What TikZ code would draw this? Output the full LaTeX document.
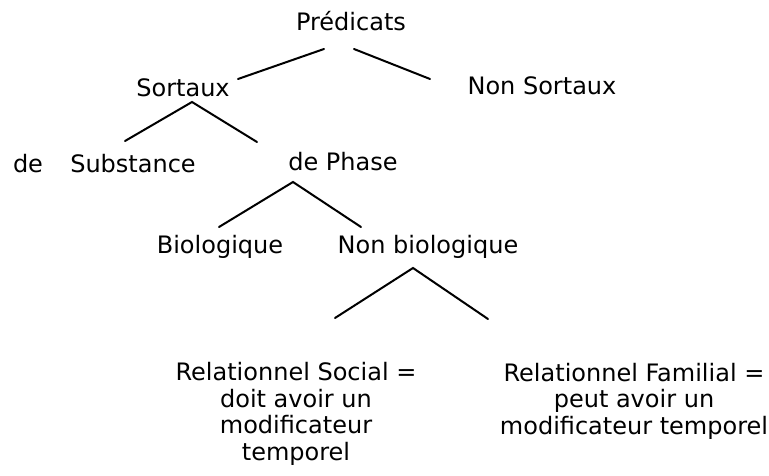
\documentclass[tikz,border=0pt]{standalone}
\usepackage{fontspec}
\setmainfont{DejaVu Sans}
\usetikzlibrary{positioning}
\tikzstyle{word} = [font=\fontsize{24}{26.5}\selectfont, inner sep=0pt, anchor=base]
\tikzstyle{words} = [word, align=center]
\tikzstyle{branch} = [line width=2pt, line cap=round]

\begin{document}
\begin{tikzpicture}[x=1pt, y=-1pt]
		\useasboundingbox (0,0) rectangle (769,476);
		\node(pred) [word] at (351,31) {Prédicats};
		\node(sort) [word] at (183,97) {Sortaux};
		\node(nsort) [word] at (542,95) {Non Sortaux};
		\node(de) [word] at (28,173) {de};
		\node(subst) [word] at (133,173) {Substance};
		\node(phase) [word] at (343,171) {de Phase};
		\node(bio) [word] at (220,253) {Biologique};
		\node(nbio) [word] at (428,253) {Non biologique};
		% base of a multi-line node = its last line
		\node(soc) [words] at (296,460) {Relationnel Social =\\doit avoir un\\modificateur\\temporel};
		\node(fam) [words] at (634,434) {Relationnel Familial =\\peut avoir un\\modificateur temporel};
		% branch ends
		\coordinate (pred-l) at (324,49);
		\coordinate (pred-r) at (354,49);
		\coordinate (sort-r) at (238,79);
		\coordinate (nsort-l) at (430,79);
		\coordinate (sort-top) at (192,102);
		\coordinate (subst-top) at (125,141);
		\coordinate (phase-l) at (257,142);
		\coordinate (phase-top) at (293,182);
		\coordinate (bio-top) at (219,227);
		\coordinate (nbio-r) at (361,227);
		\coordinate (nbio-top) at (413,268);
		\coordinate (soc-top) at (335,318);
		\coordinate (fam-top) at (488,319);
		\draw [branch] (pred-l) -- (sort-r);
		\draw [branch] (pred-r) -- (nsort-l);
		\draw [branch] (subst-top) -- (sort-top) -- (phase-l);
		\draw [branch] (bio-top) -- (phase-top) -- (nbio-r);
		\draw [branch] (soc-top) -- (nbio-top) -- (fam-top);
	\end{tikzpicture}
\end{document}
